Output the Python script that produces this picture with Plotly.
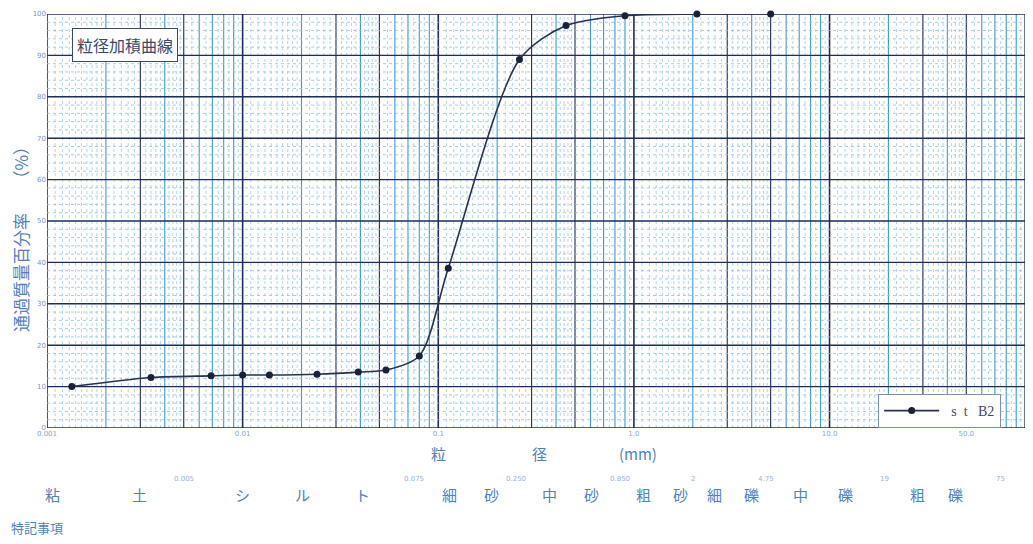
import numpy as np
import plotly.graph_objects as go

# ---- data ----
grain_mm = [0.00134, 0.0034, 0.0069, 0.0100, 0.0137, 0.024, 0.039, 0.054, 0.080, 0.1125, 0.26, 0.45, 0.90, 2.1, 5.0]
passing_pct = [10.0, 12.2, 12.6, 12.8, 12.8, 13.0, 13.5, 14.0, 17.4, 38.6, 89.0, 97.2, 99.6, 100.0, 100.0]
series_name = "\u00a0\u00a0s\u00a0\u00a0t\u00a0\u00a0\u00a0B2"

x_tick_vals = [0.001, 0.01, 0.1, 1.0, 10.0, 50.0]
x_tick_text = ["0.001", "0.01", "0.1", "1.0", "10.0", "50.0"]
y_tick_vals = [0, 10, 20, 30, 40, 50, 60, 70, 80, 90, 100]

class_bounds = [0.001, 0.005, 0.075, 0.250, 0.850, 2.0, 4.75, 19.0, 75.0]
bound_labels = ["0.005", "0.075", "0.250", "0.850", "2", "4.75", "19", "75"]
class_names = ["粘土", "シルト", "細砂", "中砂", "粗砂", "細礫", "中礫", "粗礫"]

# ---- style (pixel spacing / offsets of the class-name characters) ----
char_gap = [87, 60, 42, 42, 37, 37, 45, 38]
char_off = [-19, 4, 6, 2, 6, 3, -2, -6]

NAVY = "#1d2d5c"
BLUE = "#3f9ad8"
LBLUE = "#8cc4ec"
TXT = "#4f82c0"
CJK = "Noto Sans CJK JP"

fig = go.Figure()
fig.add_trace(go.Scatter(
    x=grain_mm, y=passing_pct, mode="lines+markers", name=series_name,
    line=dict(color="#26324f", width=1.6, shape="spline", smoothing=0.8),
    marker=dict(color="#1a2238", size=7),
    cliponaxis=False,
))

shapes = []
# vertical log grid
for e in range(-3, 3):
    base = 10.0 ** e
    for m in range(1, 10):
        xv = m * base
        if xv > 110:
            continue
        col = NAVY if m in (1, 3, 5) else BLUE
        wid = 1.6 if m == 1 else 1.1
        shapes.append(dict(type="line", xref="x", yref="paper", x0=xv, x1=xv, y0=0, y1=1,
                           line=dict(color=col, width=wid), layer="below"))
        step = 0.1 if m < 2 else (0.2 if m < 5 else 0.5)
        for f in np.arange(m + step, m + 1 - 1e-9, step):
            xf = f * base
            if xf > 109:
                continue
            shapes.append(dict(type="line", xref="x", yref="paper", x0=xf, x1=xf, y0=0, y1=1,
                               line=dict(color=LBLUE, width=0.7, dash="dot"), layer="below"))
# horizontal grid
for yv in range(0, 101, 2):
    if yv % 10 == 0:
        shapes.append(dict(type="line", xref="paper", yref="y", x0=0, x1=1, y0=yv, y1=yv,
                           line=dict(color=NAVY, width=1.4), layer="below"))
    else:
        shapes.append(dict(type="line", xref="paper", yref="y", x0=0, x1=1, y0=yv, y1=yv,
                           line=dict(color=LBLUE, width=0.8, dash="dot"), layer="below"))

annotations = []
# title box
annotations.append(dict(text="粒径加積曲線", xref="paper", yref="paper", x=0.025, y=0.925,
                        xanchor="left", yanchor="middle", showarrow=False,
                        font=dict(family=CJK, size=16, color="#3a4a6a"),
                        bgcolor="white", bordercolor="#3a4a6a", borderwidth=1, borderpad=4))
# y-axis title (rotated annotation)
annotations.append(dict(text="通過質量百分率　　（%）", xref="paper", yref="paper",
                        x=-0.0274, y=0.466, textangle=-90, showarrow=False,
                        xanchor="center", yanchor="middle",
                        font=dict(family=CJK, size=17, color=TXT)))
# x-axis title pieces (annotation x on a log axis is given in log10 units)
for txt, xv in [("粒", 0.1), ("径", 0.33), ("(mm)", 1.05)]:
    annotations.append(dict(text=txt, x=np.log10(xv), xref="x", y=-0.092, yref="paper",
                            showarrow=False, font=dict(family=CJK, size=15, color=TXT)))
# class boundary values
for b, lab in zip(class_bounds[1:], bound_labels):
    annotations.append(dict(text=lab, x=np.log10(b), xref="x", y=-0.137, yref="paper",
                            showarrow=False,
                            font=dict(family="DejaVu Sans", size=7, color="#9ab4d4")))
# class names, one character at a time
for i, nm in enumerate(class_names):
    lo, hi = class_bounds[i], class_bounds[i + 1]
    xc = (np.log10(lo) + np.log10(hi)) / 2
    n = len(nm)
    for k, ch in enumerate(nm):
        annotations.append(dict(text=ch, x=xc, xref="x", y=-0.192, yref="paper",
                                xshift=char_off[i] + (k - (n - 1) / 2) * char_gap[i],
                                showarrow=False,
                                font=dict(family=CJK, size=15, color=TXT)))
annotations.append(dict(text="特記事項", x=-0.039, xref="paper", y=-0.269, yref="paper",
                        xanchor="left", showarrow=False,
                        font=dict(family=CJK, size=13, color=TXT)))

fig.update_layout(
    width=1025, height=536,
    margin=dict(l=39, r=0, t=6, b=116),
    paper_bgcolor="white", plot_bgcolor="white",
    shapes=shapes, annotations=annotations,
    showlegend=True,
    legend=dict(x=0.843, y=0.0, xanchor="left", yanchor="bottom", bgcolor="white",
                bordercolor="#7a90b0", borderwidth=1, itemwidth=55,
                font=dict(family="Liberation Serif", size=14, color="#3a4a6a")),
    xaxis=dict(type="log", range=[-3, 2.04], tickvals=x_tick_vals, ticktext=x_tick_text,
               showgrid=False, zeroline=False, ticks="", showline=False, automargin=False,
               tickfont=dict(family="DejaVu Sans", size=7, color="#8aa8cc")),
    yaxis=dict(range=[0, 100], tickvals=y_tick_vals, showgrid=False, zeroline=False,
               ticks="", showline=False, automargin=False,
               tickfont=dict(family="DejaVu Sans", size=7, color="#7a98c0")),
)

fig.write_html("out.html")
